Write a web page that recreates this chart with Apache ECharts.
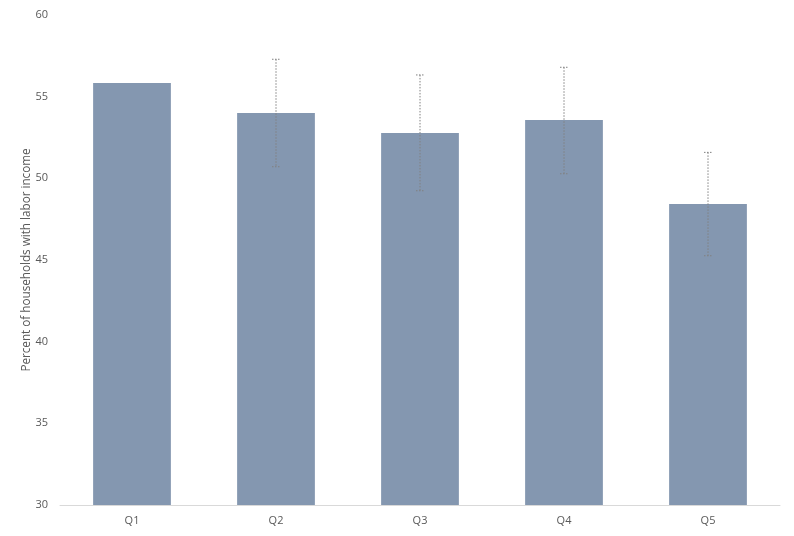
<!DOCTYPE html>
<html lang="en">
<head>
<meta charset="utf-8">
<title>Labor income by quintile</title>
<script src="https://cdn.jsdelivr.net/npm/echarts@6/dist/echarts.min.js"></script>
<style>
  html, body { margin: 0; padding: 0; background: #fff; }
  #chart { width: 794px; height: 536px; }
</style>
</head>
<body>
<div id="chart"></div>
<script>
var categories = ['Q1', 'Q2', 'Q3', 'Q4', 'Q5'];
var values = [55.84, 54.0, 52.78, 53.57, 48.43];
// error bar ends, null where no bar is drawn
var errLow = [null, 50.71, 49.24, 50.28, 45.26];
var errHigh = [null, 57.29, 56.33, 56.8, 51.59];

var errData = [];
for (var i = 0; i < categories.length; i++) {
    if (errLow[i] != null) errData.push([i, errLow[i], errHigh[i]]);
}

var chart = echarts.init(document.getElementById('chart'));
chart.setOption({
    animation: false,
    textStyle: { fontFamily: 'Open Sans, DejaVu Sans, sans-serif' },
    grid: { left: 60, right: 14, top: 15, bottom: 31 },
    xAxis: {
        type: 'category',
        data: categories,
        axisLine: { lineStyle: { color: '#d9d9d9', width: 1 } },
        axisTick: { show: false },
        axisLabel: { color: '#595959', fontSize: 11, margin: 10 }
    },
    yAxis: {
        type: 'value',
        min: 30,
        max: 60,
        interval: 5,
        name: 'Percent of households with labor income',
        nameLocation: 'middle',
        nameGap: 27,
        nameMoveOverlap: false,
        nameTextStyle: { color: '#595959', fontSize: 11.7 },
        axisLine: { show: false },
        axisTick: { show: false },
        splitLine: { show: false },
        axisLabel: { color: '#595959', fontSize: 11, margin: 12 }
    },
    series: [{
        type: 'bar',
        data: values,
        barWidth: '54%',
        itemStyle: { color: '#8497b0' }
    }, {
        type: 'custom',
        data: errData,
        z: 10,
        renderItem: function (params, api) {
            var x = api.value(0);
            var lo = api.coord([x, api.value(1)]);
            var hi = api.coord([x, api.value(2)]);
            var cap = 4;
            var style = { stroke: '#808080', lineWidth: 1, lineDash: [1.5, 1.5] };
            return {
                type: 'group',
                children: [
                    { type: 'line', shape: { x1: hi[0], y1: hi[1], x2: lo[0], y2: lo[1] }, style: style },
                    { type: 'line', shape: { x1: hi[0] - cap, y1: hi[1], x2: hi[0] + cap, y2: hi[1] }, style: style },
                    { type: 'line', shape: { x1: lo[0] - cap, y1: lo[1], x2: lo[0] + cap, y2: lo[1] }, style: style }
                ]
            };
        }
    }]
});
</script>
</body>
</html>
